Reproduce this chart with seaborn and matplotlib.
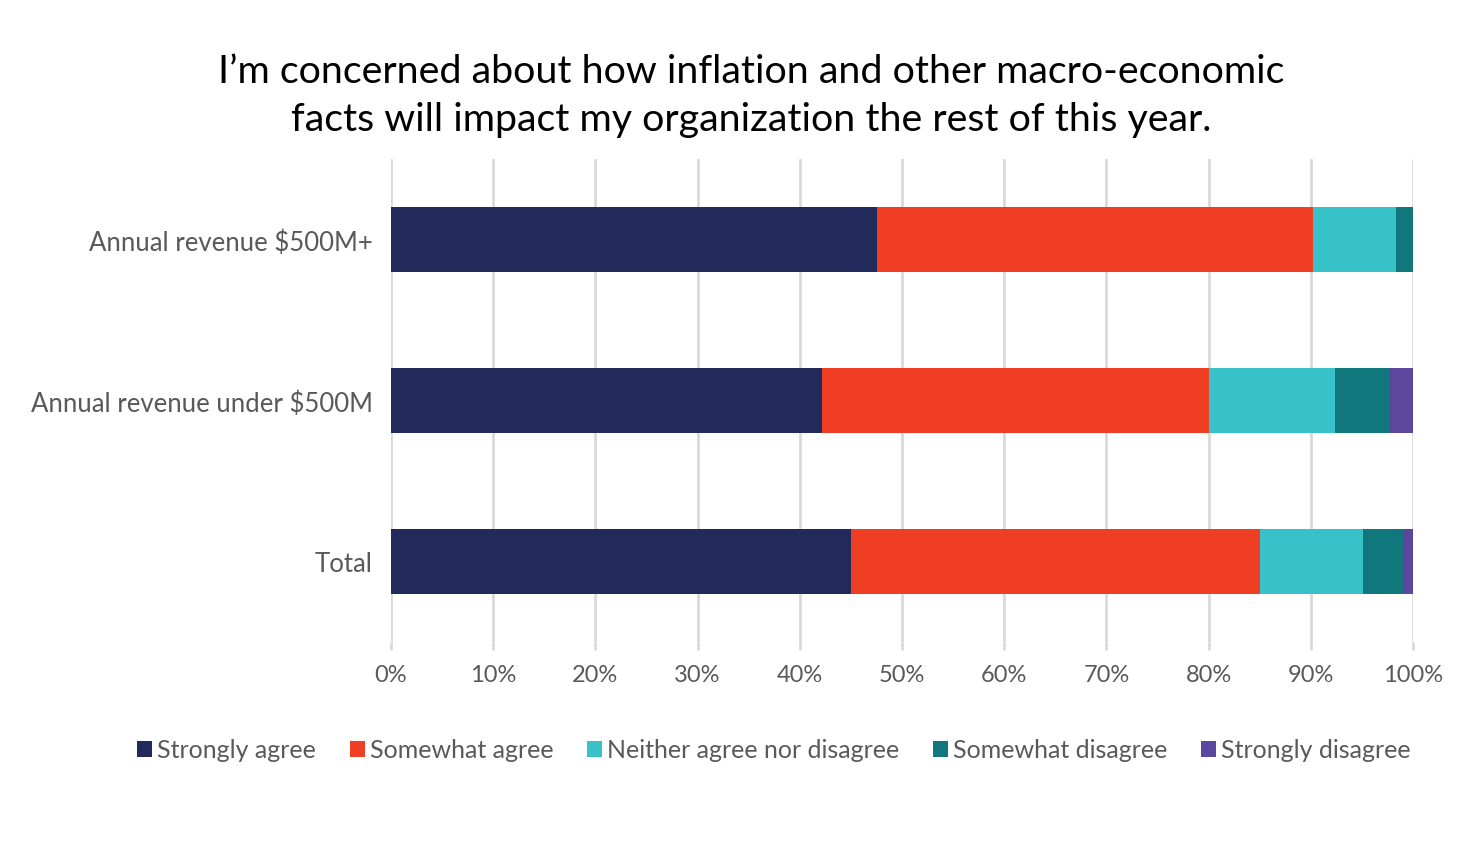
import matplotlib.pyplot as plt
import seaborn as sns
import numpy as np
import pandas as pd

# Data (percent of respondents)
groups = ["Annual revenue $500M+", "Annual revenue under $500M", "Total"]
responses = ["Strongly agree", "Somewhat agree", "Neither agree nor disagree",
             "Somewhat disagree", "Strongly disagree"]
strongly_agree = [47.6, 42.2, 45.0]
somewhat_agree = [42.6, 37.8, 40.0]
neither = [8.1, 12.4, 10.1]
somewhat_disagree = [1.7, 5.3, 3.9]
strongly_disagree = [0.0, 2.3, 1.0]
colors = ["#212A5A", "#F03E25", "#37C1C8", "#10777D", "#5B479E"]

sns.set_theme(style="white")
plt.rcParams['font.family'] = ['Lato', 'DejaVu Sans']

df = pd.DataFrame({
    "group": groups,
    responses[0]: strongly_agree,
    responses[1]: somewhat_agree,
    responses[2]: neither,
    responses[3]: somewhat_disagree,
    responses[4]: strongly_disagree,
})
cum = df[responses].cumsum(axis=1)
cum["group"] = df["group"]

fig = plt.figure(figsize=(14.68, 8.62), dpi=100)
ax = fig.add_axes([391 / 1468, 1 - 643 / 862, (1413 - 391) / 1468, 483 / 862])

# Stacked bars: draw cumulative totals from the widest to the narrowest
for resp, col in reversed(list(zip(responses, colors))):
    sns.barplot(data=cum, x=resp, y="group", color=col, width=0.4,
                orient="h", ax=ax, label=resp, saturation=1, linewidth=0)

handles, labels = ax.get_legend_handles_labels()
if ax.get_legend() is not None:
    ax.get_legend().remove()

ax.set_xlim(0, 100)
ax.set_ylim(2.5, -0.5)
ax.set_xticks(np.arange(0, 101, 10))
ax.set_xticklabels([f"{v}%" for v in range(0, 101, 10)])
ax.set_xlabel("")
ax.set_ylabel("")
ax.xaxis.grid(True, color="#D9D9D9", linewidth=2)
ax.set_axisbelow(True)
for s in ax.spines.values():
    s.set_visible(False)
ax.tick_params(axis="x", labelsize=17, labelcolor="#595959", pad=10,
               length=6, color="#D9D9D9", width=2, bottom=True)
ax.tick_params(axis="y", labelsize=18.5, labelcolor="#595959", pad=13, length=0)

order = [labels.index(r) for r in responses]
fig.legend([handles[i] for i in order], responses, loc="center",
           bbox_to_anchor=(774 / 1468, 1 - 751 / 862), ncol=5, frameon=False,
           fontsize=18, labelcolor="#595959", handlelength=0.6, handleheight=0.6,
           handletextpad=0.2, columnspacing=1.35)

fig.text(751 / 1468, 1 - 96 / 862,
         "I\u2019m concerned about how inflation and other macro-economic\n"
         "facts will impact my organization the rest of this year.",
         ha="center", va="center", fontsize=28.4, color="black", linespacing=1.38)

fig.savefig("out.png", dpi=100)
